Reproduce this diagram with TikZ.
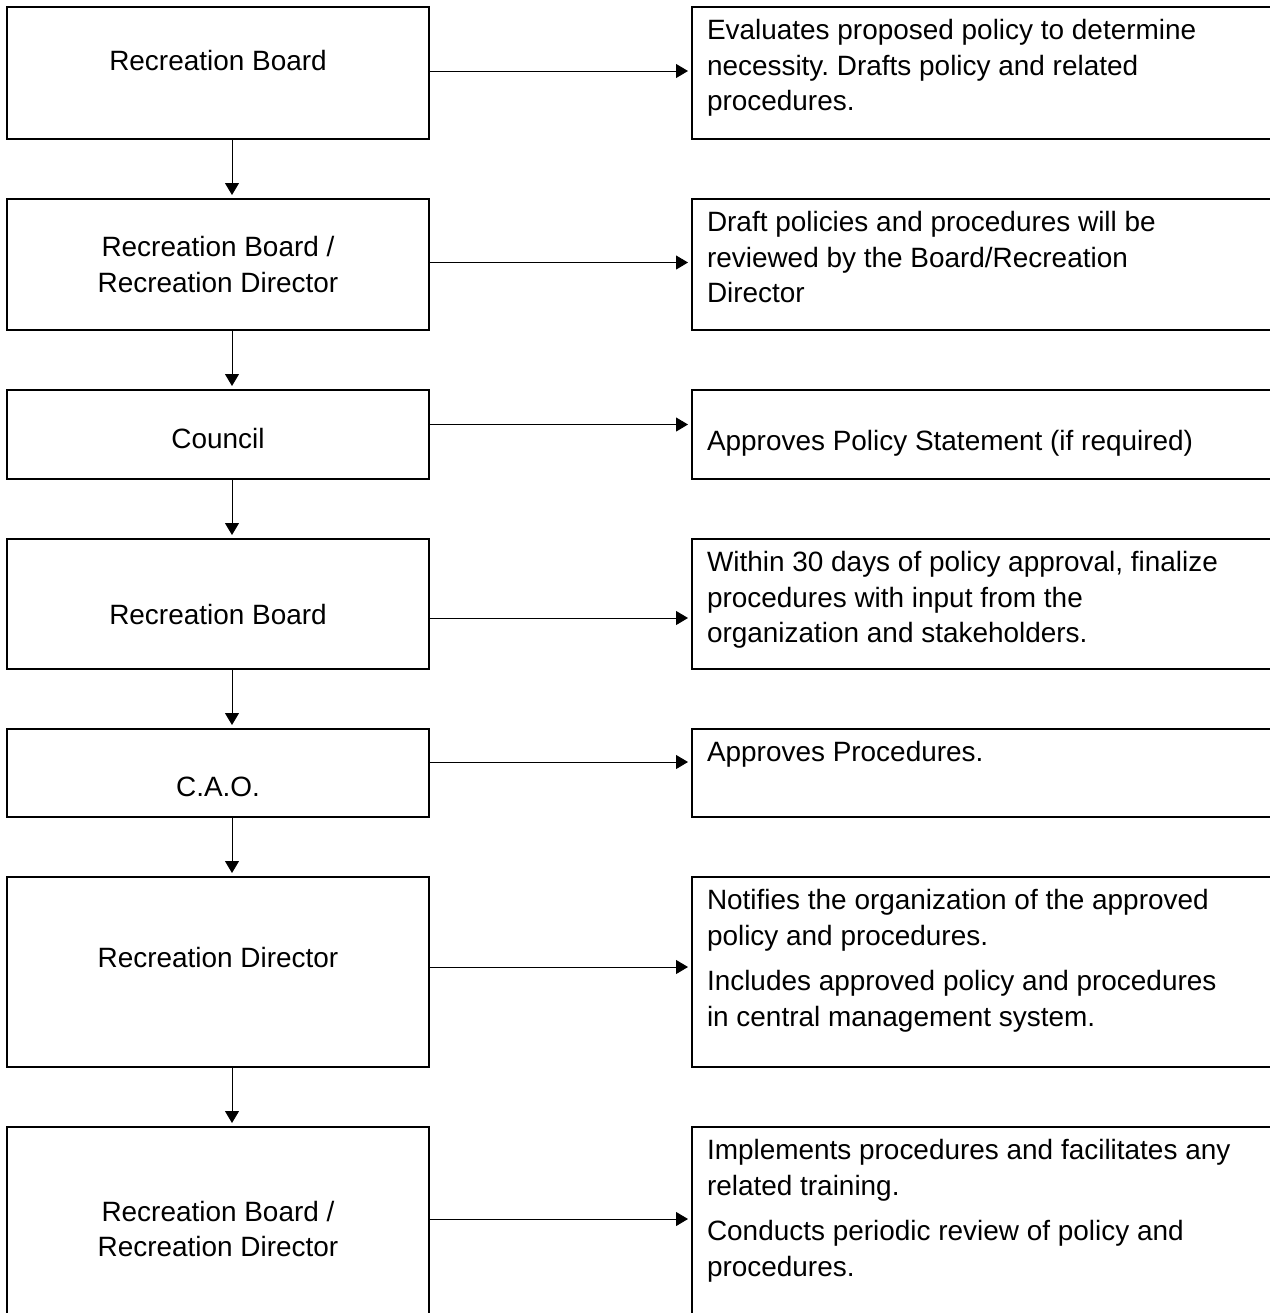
\documentclass[tikz,border=0pt]{standalone}
\usepackage{fontspec}
\setmainfont{Liberation Sans}
\usetikzlibrary{arrows.meta,positioning}
\frenchspacing

\begin{document}
\begin{tikzpicture}[
  font=\fontsize{15.9pt}{20.4pt}\selectfont,
  who/.style={draw, line width=0.04cm, minimum width=8.44cm, align=center, inner sep=0pt},
  task/.style={draw, line width=0.04cm, inner xsep=0.3cm, inner ysep=0.14cm,
    execute at begin node={\begin{minipage}[t][#1][t]{11.2cm}\raggedright\setlength{\parskip}{5.7pt}\vspace*{0.1cm}},
    execute at end node={\end{minipage}}},
  arr/.style={-{Triangle[length=0.24cm, width=0.28cm]}, line width=0.02cm, shorten >=0.06cm}
]
\useasboundingbox (0,0) rectangle (25.4,-26.26);
% who does it
\node[who, minimum height=2.64cm, text height=0.4cm, text depth=0.52cm, anchor=north west] (a1) at (0.12,-0.12) {Recreation Board};
\node[who, minimum height=2.62cm, below=1.16cm of a1] (a2) {Recreation Board /\\Recreation Director};
\node[who, minimum height=1.78cm, text height=0.6cm, text depth=0.06cm, below=1.16cm of a2] (a3) {Council};
\node[who, minimum height=2.60cm, text height=0.8cm, text depth=0cm, below=1.16cm of a3] (a4) {Recreation Board};
\node[who, minimum height=1.76cm, text height=0.92cm, text depth=0cm, below=1.16cm of a4] (a5) {C.A.O.};
\node[who, minimum height=3.80cm, text height=0.4cm, text depth=0.6cm, below=1.16cm of a5] (a6) {Recreation Director};
\node[who, minimum height=4.08cm, below=1.16cm of a6] (a7) {Recreation Board /\\Recreation Director};
% what is done
\node[task=2.36cm, right=5.22cm of a1] (t1) {Evaluates proposed policy to determine\\necessity. Drafts policy and related\\procedures.};
\node[task=2.34cm, right=5.22cm of a2] (t2) {Draft policies and procedures will be\\reviewed by the Board/Recreation\\Director};
\node[task=1.50cm, right=5.22cm of a3] (t3) {\vspace*{0.56cm}Approves Policy Statement (if required)};
\node[task=2.32cm, right=5.22cm of a4] (t4) {Within 30 days of policy approval, finalize\\procedures with input from the\\organization and stakeholders.};
\node[task=1.48cm, right=5.22cm of a5] (t5) {Approves Procedures.};
\node[task=3.52cm, right=5.22cm of a6] (t6) {Notifies the organization of the approved\\policy and procedures.\par Includes approved policy and procedures\\in central management system.};
\node[task=3.80cm, right=5.22cm of a7] (t7) {Implements procedures and facilitates any\\related training.\par Conducts periodic review of policy and\\procedures.};
% flow down
\draw[arr] ([xshift=0.28cm]a1.south) -- ([xshift=0.28cm]a2.north);
\draw[arr] ([xshift=0.28cm]a2.south) -- ([xshift=0.28cm]a3.north);
\draw[arr] ([xshift=0.28cm]a3.south) -- ([xshift=0.28cm]a4.north);
\draw[arr] ([xshift=0.28cm]a4.south) -- ([xshift=0.28cm]a5.north);
\draw[arr] ([xshift=0.28cm]a5.south) -- ([xshift=0.28cm]a6.north);
\draw[arr] ([xshift=0.28cm]a6.south) -- ([xshift=0.28cm]a7.north);
% across
\draw[arr] ([yshift=0.04cm]a1.east) -- ([yshift=0.04cm]t1.west);
\draw[arr] ([yshift=0.04cm]a2.east) -- ([yshift=0.04cm]t2.west);
\draw[arr] ([yshift=0.2cm]a3.east) -- ([yshift=0.2cm]t3.west);
\draw[arr] ([yshift=-0.28cm]a4.east) -- ([yshift=-0.28cm]t4.west);
\draw[arr] ([yshift=0.22cm]a5.east) -- ([yshift=0.22cm]t5.west);
\draw[arr] ([yshift=0.1cm]a6.east) -- ([yshift=0.1cm]t6.west);
\draw[arr] ([yshift=0.2cm]a7.east) -- ([yshift=0.2cm]t7.west);
\end{tikzpicture}
\end{document}
